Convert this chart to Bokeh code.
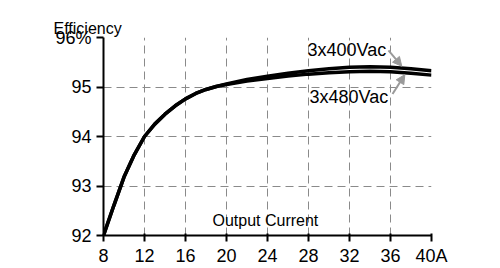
from bokeh.plotting import figure
from bokeh.models import Range1d, FixedTicker, Label, Arrow, NormalHead, LinearAxis
from bokeh.embed import file_html
from bokeh.resources import INLINE

current = [8, 9, 10, 11, 12, 13, 14, 15, 16, 17, 18, 19, 20, 22, 24, 26, 28, 30, 32, 34, 36, 38, 40]
eff_400 = [92.00, 92.60, 93.18, 93.63, 94.00, 94.25, 94.45, 94.62, 94.76, 94.87, 94.95, 95.01, 95.06,
           95.15, 95.22, 95.28, 95.33, 95.37, 95.40, 95.41, 95.40, 95.37, 95.33]
eff_480 = [92.00, 92.60, 93.18, 93.63, 94.00, 94.25, 94.45, 94.62, 94.76, 94.87, 94.95, 95.01, 95.05,
           95.12, 95.17, 95.22, 95.26, 95.29, 95.31, 95.32, 95.31, 95.28, 95.24]
x_ticks = [8, 12, 16, 20, 24, 28, 32, 36, 40]
y_ticks = [92, 93, 94, 95, 96]
x_labels = {40: "40A"}
y_labels = {96: "96%"}
series_names = ["3x400Vac", "3x480Vac"]

FONT = "Liberation Sans"

p = figure(width=500, height=268, output_backend="svg", toolbar_location=None,
           x_range=Range1d(8, 40), y_range=Range1d(92, 96),
           min_border_left=103, min_border_right=69, min_border_top=37, min_border_bottom=33,
           title="Efficiency")
p.outline_line_color = None
p.background_fill_color = "white"

bottom_axis = p.below[0]
left_axis = p.left[0]

# invisible spacer axis above the frame, so the title sits higher
spacer = LinearAxis(ticker=FixedTicker(ticks=[]), axis_line_color=None,
                    major_tick_out=14, major_tick_in=0, major_label_standoff=0,
                    minor_tick_out=0, minor_tick_in=0)
p.add_layout(spacer, "above")

p.title.align = "left"
p.title.offset = -50
p.title.standoff = 1
p.title.text_font = FONT
p.title.text_font_size = "16px"
p.title.text_font_style = "normal"
p.title.text_color = "black"

for ax, ticks, overrides in ((bottom_axis, x_ticks, x_labels), (left_axis, y_ticks, y_labels)):
    ax.ticker = FixedTicker(ticks=ticks)
    ax.major_label_overrides = overrides
    ax.major_label_text_font = FONT
    ax.major_label_text_font_size = "18px"
    ax.major_label_text_color = "black"
    ax.axis_line_color = "black"
    ax.axis_line_width = 2
    ax.major_tick_line_color = "black"
    ax.major_tick_line_width = 2
    ax.minor_tick_line_color = None

bottom_axis.major_tick_out = 6
bottom_axis.major_tick_in = 2
bottom_axis.major_label_standoff = 4
left_axis.major_tick_out = 7
left_axis.major_tick_in = 0
left_axis.major_label_standoff = 5

p.xgrid.ticker = FixedTicker(ticks=x_ticks)
p.ygrid.ticker = FixedTicker(ticks=y_ticks)
for g in (p.xgrid[0], p.ygrid[0]):
    g.grid_line_color = "#8a8a8a"
    g.grid_line_dash = "8 5"
    g.grid_line_width = 1

p.line(current, eff_400, line_color="black", line_width=3.5)
p.line(current, eff_480, line_color="black", line_width=3.5)

p.add_layout(Label(x=18.63, y=92.30, text="Output Current", text_font=FONT, text_font_size="16px",
                   text_color="black", text_baseline="alphabetic"))

# series annotations
p.add_layout(Label(x=27.9, y=95.74, text=series_names[0], text_font=FONT, text_font_size="18px",
                   text_color="black", text_baseline="alphabetic"))
p.add_layout(Label(x=28.1, y=94.79, text=series_names[1], text_font=FONT, text_font_size="18px",
                   text_color="black", text_baseline="alphabetic"))
gray = "#9a9a9a"
p.add_layout(Arrow(x_start=35.8, y_start=95.74, x_end=37.1, y_end=95.42, line_color=gray, line_width=2,
                   end=NormalHead(size=9, fill_color=gray, line_color=gray)))
p.add_layout(Arrow(x_start=36.2, y_start=94.86, x_end=37.4, y_end=95.25, line_color=gray, line_width=2,
                   end=NormalHead(size=9, fill_color=gray, line_color=gray)))

open("out.html", "w").write(file_html(p, INLINE))
